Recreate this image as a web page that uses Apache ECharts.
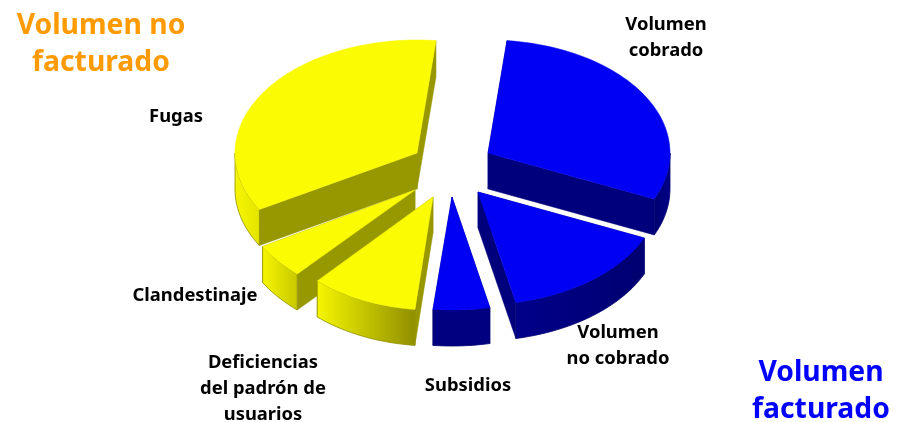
<!DOCTYPE html>
<html><head><meta charset="utf-8">
<style>html,body{margin:0;padding:0;background:#fff}#c{width:898px;height:422px}</style>
<script src="https://cdn.jsdelivr.net/npm/echarts@6/dist/echarts.min.js"></script>
</head><body><div id="c"></div>
<script>
// clockwise from the top of the pie
const categories = ['Volumen\ncobrado','Volumen\nno cobrado','Subsidios','Deficiencias\ndel padrón de\nusuarios','Clandestinaje','Fugas'];
const shares = [30, 15, 5, 10, 5, 35];
const groupTitles = ['Volumen no\nfacturado','Volumen\nfacturado'];

// presentation
const startDeg = 6, RY = 113, DEPTH = 36;
const radiusX = [182,182,182,173,176,182];
const apex = [[488,153],[478,192],[452,197],[433,197],[415,190],[417,153]];
const labelAt = [[666,38],[618,346],[468,386],[263,389],[195,296],[176,117]];
const titleAt = [[101,44],[821,391]];
const titleColor = ['#ff9a00','#0000ff'];
const paintOrder = [5,0,4,1,3,2];
const BLUE = {top:'#0000f2',cut:'#00007c',edge:'#000070'};
const YEL  = {top:'#fbfb04',cut:'#979700',edge:'#8f8f00'};
const pal = [BLUE,BLUE,BLUE,YEL,YEL,YEL];
const outerStops = [['#000088','#000070'],['#000070','#00008a'],['#000080','#000080'],
                    ['#f6f600','#8f8f00'],['#f6f600','#c8c800'],['#f6f600','#e4e400']];

const total = shares.reduce((a,b)=>a+b,0);
const cum = []; let run = startDeg;
shares.forEach(v=>{const a=v/total*360; cum.push([run,run+a]); run+=a;});
const rad = d=>d*Math.PI/180;

function renderItem(params, api){
  const i = api.value(0);
  const [a0,a1] = cum[i];
  const [cx,cy] = apex[i];
  const c = pal[i], RX = radiusX[i];
  const pt = d=>[cx+RX*Math.sin(rad(d)), cy-RY*Math.cos(rad(d))];
  const down = p=>[p[0],p[1]+DEPTH];
  const arc = (s,e)=>{const o=[];const n=Math.max(2,Math.ceil(Math.abs(e-s)/2));
    for(let k=0;k<=n;k++)o.push(pt(s+(e-s)*k/n));return o;};
  const children = [];
  const quad = p=>({type:'polygon',shape:{points:[[cx,cy],p,down(p),[cx,cy+DEPTH]]},
    style:{fill:c.cut,stroke:c.cut,lineWidth:.5}});
  children.push(quad(pt(a1)));
  children.push(quad(pt(a0)));
  const s = Math.max(a0,90), e = Math.min(a1,270);
  if(e>s){
    const top = arc(s,e);
    const isLeft = (s+e)/2>180;
    children.push({type:'polygon',shape:{points:top.concat(top.slice().reverse().map(down))},
      style:{fill:new echarts.graphic.LinearGradient(isLeft?0:1,0,isLeft?1:0,0,
        [{offset:0,color:outerStops[i][0]},{offset:1,color:outerStops[i][1]}]),stroke:c.edge,lineWidth:.8}});
  }
  children.push({type:'polygon',shape:{points:[[cx,cy]].concat(arc(a0,a1))},
    style:{fill:c.top,stroke:c.top,lineWidth:.5}});
  return {type:'group',children};
}

const FONT = '"Noto Sans", sans-serif';
const texts = categories.map((t,i)=>({type:'text',x:labelAt[i][0],y:labelAt[i][1],
  style:{text:t,fill:'#000',font:'bold 18.4px '+FONT,lineHeight:26,align:'center',verticalAlign:'middle'}}))
 .concat(groupTitles.map((t,i)=>({type:'text',x:titleAt[i][0],y:titleAt[i][1],
  style:{text:t,fill:titleColor[i],font:'bold 28.3px '+FONT,lineHeight:37,align:'center',verticalAlign:'middle'}})));

const chart = echarts.init(document.getElementById('c'),null,{renderer:'canvas'});
chart.setOption({
  animation:false,
  backgroundColor:'#fff',
  graphic:texts,
  series:[{type:'custom',coordinateSystem:'none',renderItem,
    data:paintOrder.map(i=>[i,shares[i]])}]
});
</script></body></html>
